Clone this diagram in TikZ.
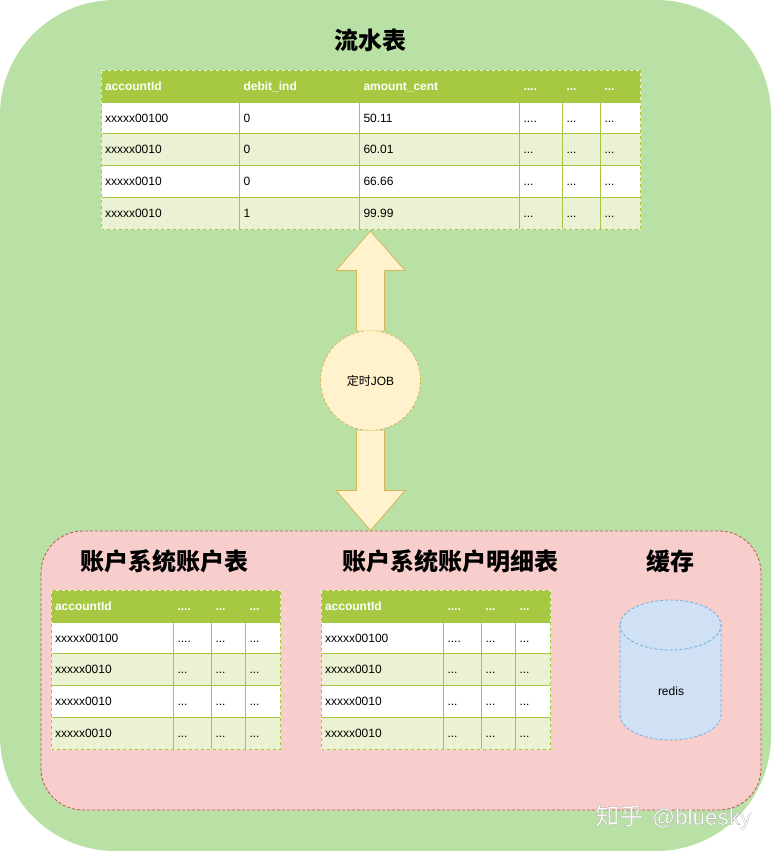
\documentclass[tikz,border=0pt]{standalone}
\usepackage{fontspec}
\setmainfont{Liberation Sans}
\newfontfamily\cjk{Noto Sans CJK SC}
\usetikzlibrary{calc}
\definecolor{bgGreen}{HTML}{B9E0A5}
\definecolor{bgPink}{HTML}{F8CECC}
\definecolor{linePink}{HTML}{B85450}
\definecolor{jobYellow}{HTML}{FFF2CC}
\definecolor{lineYellow}{HTML}{D6B656}
\definecolor{cacheBlue}{HTML}{D0E0F5}
\definecolor{lineBlue}{HTML}{6EB0E0}
\definecolor{headGreen}{HTML}{A7C942}
\definecolor{gridGreen}{HTML}{A3C540}
\definecolor{altGreen}{HTML}{EAF2D3}
\definecolor{edgeGreen}{HTML}{EAF2C0}
\newcommand{\dotsc}{...}
\newcommand{\dotsd}{....}
\tikzset{
  cell/.style={draw=gridGreen,line width=1pt,anchor=north west,inner sep=4pt,outer sep=0pt,
    align=left,text height=10pt,text depth=2pt,font=\fontsize{12}{14}\selectfont},
  headcell/.style={cell,fill=headGreen,text=white,font=\fontsize{12}{14}\selectfont\bfseries},
  plaincell/.style={cell,fill=white},
  altcell/.style={cell,fill=altGreen},
  tableedge/.style={draw=edgeGreen,line width=1pt,dash pattern=on 3pt off 3pt},
  titletext/.style={inner sep=0pt,font=\fontsize{24}{28}\selectfont\cjk\bfseries},
  blockarrow/.style={draw=lineYellow,fill=jobYellow,line width=0.8pt,line join=miter},
  marktext/.style={anchor=west,inner sep=0pt,font=\fontsize{22.5}{26}\selectfont},
}
% one row of the two small tables
\newcommand{\smallrow}[7]{
    \node[#3,minimum height=#7pt,text width=114.5pt] (#1#2a) at (\smallx,#6) {#4};
    \node[#3,minimum height=#7pt,text width=30pt] (#1#2b) at (\smallx+122.5,#6) {#5};
    \node[#3,minimum height=#7pt,text width=26pt] (#1#2c) at (\smallx+160.5,#6) {\dotsc};
    \node[#3,minimum height=#7pt,text width=26.5pt] (#1#2d) at (\smallx+194.5,#6) {\dotsc};
}
\newcommand{\smalltable}[2]{
    \def\smallx{#2}
    \smallrow{#1}{h}{headcell}{accountId}{\dotsd}{590.5}{32}
    \smallrow{#1}{p}{plaincell}{xxxxx00100}{\dotsd}{622.5}{31}
    \smallrow{#1}{q}{altcell}{xxxxx0010}{\dotsc}{653.5}{32}
    \smallrow{#1}{r}{plaincell}{xxxxx0010}{\dotsc}{685.5}{32}
    \smallrow{#1}{s}{altcell}{xxxxx0010}{\dotsc}{717.5}{32}
    \draw[tableedge] (#1ha.north west) rectangle (#1sd.south east);
}

\begin{document}
\begin{tikzpicture}[x=1pt,y=-1pt]
    \useasboundingbox (0,0) rectangle (771,851);
    \fill[bgGreen,rounded corners=115pt] (0,0) rectangle (771,851);
    \draw[fill=bgPink,draw=linePink,dash pattern=on 3pt off 2pt,line width=0.8pt,rounded corners=42pt] (41,531) rectangle (761,810);

    \node[titletext](flowtitle) at (370,40) {流水表};
    \node[titletext](accttitle) at (164.5,561) {账户系统账户表};
    \node[titletext](detailtitle) at (450,561) {账户系统账户明细表};
    \node[titletext](cachetitle) at (670,561) {缓存};

    % flow table
    \foreach \rname/\ry/\rh/\rstyle/\ca/\cb/\cc/\cd/\ce in {
        h/70.5/32/headcell/accountId/debit\_ind/amount\_cent/\dotsd/\dotsc,
        p/102.5/31/plaincell/xxxxx00100/0/50.11/\dotsd/\dotsc,
        q/133.5/32/altcell/xxxxx0010/0/60.01/\dotsc/\dotsc,
        r/165.5/32/plaincell/xxxxx0010/0/66.66/\dotsc/\dotsc,
        s/197.5/32/altcell/xxxxx0010/1/99.99/\dotsc/\dotsc
    }{
        \node[\rstyle,minimum height=\rh pt,text width=130pt] (flow\rname a) at (101,\ry) {\ca};
        \node[\rstyle,minimum height=\rh pt,text width=112.5pt] (flow\rname b) at (239.5,\ry) {\cb};
        \node[\rstyle,minimum height=\rh pt,text width=152pt] (flow\rname c) at (359.5,\ry) {\cc};
        \node[\rstyle,minimum height=\rh pt,text width=35pt] (flow\rname d) at (519.5,\ry) {\cd};
        \node[\rstyle,minimum height=\rh pt,text width=30pt] (flow\rname e) at (562.5,\ry) {\ce};
        \node[\rstyle,minimum height=\rh pt,text width=31.5pt] (flow\rname f) at (600.5,\ry) {\ce};
    }
    \draw[tableedge] (flowha.north west) rectangle (flowsf.south east);

    \smalltable{acct}{51}
    \smalltable{detail}{321}

    % job and the two thick arrows
    \node[circle,minimum size=100pt,inner sep=0pt,outer sep=0pt,fill=jobYellow,draw=lineYellow,
        dash pattern=on 3pt off 2pt,line width=0.8pt,font=\fontsize{12}{14}\selectfont](job) at (370.5,380.5) {{\cjk 定时}JOB};
    \coordinate (uptip) at (370.5,231);
    \coordinate (downtip) at (370.5,530.5);
    \draw[blockarrow] ($(job.north)+(-14,0)$) -- ++(0,-60) -- ++(-20.5,0) -- (uptip)
        -- ($(job.north)+(34.5,-60)$) -- ($(job.north)+(14,-60)$) -- ($(job.north)+(14,0)$);
    \draw[blockarrow] ($(job.south)+(-14,0)$) -- ++(0,60) -- ++(-20.5,0) -- (downtip)
        -- ($(job.south)+(34.5,60)$) -- ($(job.south)+(14,60)$) -- ($(job.south)+(14,0)$);

    % redis
    \draw[fill=cacheBlue,draw=lineBlue,dash pattern=on 3pt off 2pt,line width=0.8pt] (620,625) -- (620,715)
        arc[start angle=180,end angle=360,x radius=50.5pt,y radius=25pt] -- (721,625)
        arc[start angle=0,end angle=180,x radius=50.5pt,y radius=25pt] -- cycle;
    \draw[draw=lineBlue,dash pattern=on 3pt off 2pt,line width=0.8pt] (620,625)
        arc[start angle=180,end angle=360,x radius=50.5pt,y radius=25pt];
    \node[font=\fontsize{12}{14}\selectfont](redis) at (671,691) {redis};

    % watermark, white letters with a grey rim
    \node[marktext,text=white](mark) at (595,817) {\special{pdf:code 2 Tr 0.6 G 0.18 w}{\cjk\fontsize{24}{26}\selectfont 知乎}\hspace{9pt}@bluesky\special{pdf:code 0 Tr}};
\end{tikzpicture}
\end{document}
